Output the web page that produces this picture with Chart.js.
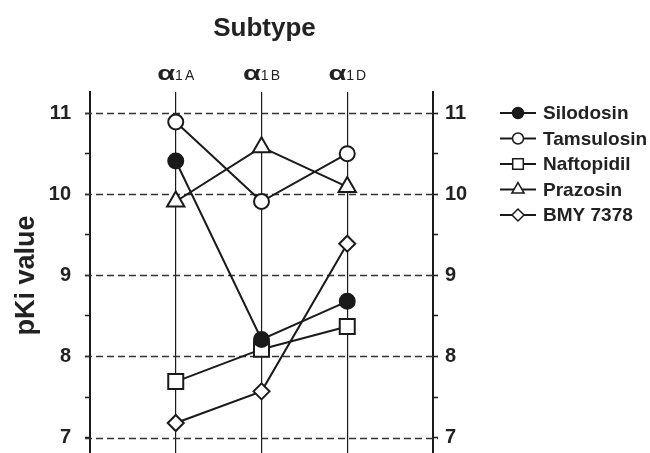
<!DOCTYPE html>
<html>
<head>
<meta charset="utf-8">
<script src="https://cdn.jsdelivr.net/npm/chart.js@4/dist/chart.umd.min.js"></script>
<style>
  html, body { margin: 0; padding: 0; background: #fff; }
  #wrap { width: 650px; height: 453px; position: relative; }
</style>
</head>
<body>
<div id="wrap"><canvas id="pki-chart"></canvas></div>
<script>
/* pKi values of five alpha1 blockers at the three receptor subtypes. */
var subtypes = ["1A", "1B", "1D"];
var silodosin = [10.41, 8.21, 8.68];
var tamsulosin = [10.89, 9.91, 10.50];
var naftopidil = [7.69, 8.09, 8.37];
var prazosin = [9.91, 10.58, 10.09];
var bmy7378 = [7.18, 7.57, 9.39];
var yTicks = [7, 7.5, 8, 8.5, 9, 9.5, 10, 10.5, 11];

(function () {
  "use strict";
  var INK = "#1a1a1a";
  var FONT = "'Liberation Sans', Arial, sans-serif";

  var series = [
    { label: "Silodosin", data: silodosin, shape: "circle", r: 7.5, lr: 5.5, fill: INK },
    { label: "Tamsulosin", data: tamsulosin, shape: "circle", r: 7.5, lr: 5.5, fill: "#fff" },
    { label: "Naftopidil", data: naftopidil, shape: "rect", r: 10.6, lr: 7.5, fill: "#fff" },
    { label: "Prazosin", data: prazosin, shape: "triangle", r: 10, lr: 7, fill: "#fff" },
    { label: "BMY 7378", data: bmy7378, shape: "rectRot", r: 8, lr: 6, fill: "#fff" }
  ];

  var datasets = series.map(function (s) {
    return {
      label: s.label,
      data: s.data.map(function (v, i) { return { x: i, y: v }; }),
      borderColor: INK,
      borderWidth: 2,
      backgroundColor: s.fill,
      pointStyle: s.shape,
      pointRadius: s.r,
      pointHoverRadius: s.r,
      pointBorderWidth: 2,
      pointBackgroundColor: s.fill,
      pointBorderColor: INK,
      tension: 0,
      fill: false,
      clip: false
    };
  });

  function setTicks(scale) {
    scale.ticks = yTicks.map(function (v) { return { value: v }; });
  }
  function intLabel(v) { return Number.isInteger(v) ? String(v) : ""; }

  var yCommon = function (pos, width, pad) {
    return {
      type: "linear",
      position: pos,
      min: 6.81,
      max: 11.26,
      afterBuildTicks: setTicks,
      afterFit: function (scale) {
        scale.width = width;
        scale.paddingTop = 0;
        scale.paddingBottom = 0;
      },
      grid: { drawOnChartArea: false, drawTicks: true, tickLength: 5, tickColor: INK, tickWidth: 1.5 },
      border: { display: true, color: INK, width: 2 },
      ticks: {
        callback: intLabel,
        padding: pad,
        color: "#222",
        font: { family: FONT, size: 20, weight: "bold" }
      }
    };
  };

  var decor = {
    id: "decor",
    beforeDatasetsDraw: function (chart) {
      var ctx = chart.ctx, a = chart.chartArea, y = chart.scales.y;
      ctx.save();
      ctx.strokeStyle = "#333";
      ctx.lineWidth = 1.5;
      ctx.setLineDash([7, 4]);
      yTicks.forEach(function (v) {
        if (!Number.isInteger(v)) return;
        var py = Math.round(y.getPixelForValue(v)) + 0.5;
        ctx.beginPath();
        ctx.moveTo(a.left - 5, py);
        ctx.lineTo(a.right + 5, py);
        ctx.stroke();
      });
      ctx.restore();
    },
    afterDraw: function (chart) {
      var ctx = chart.ctx, a = chart.chartArea, x = chart.scales.x;
      ctx.save();
      ctx.fillStyle = "#222";
      ctx.textBaseline = "alphabetic";

      // title
      ctx.font = "bold 26px " + FONT;
      ctx.textAlign = "center";
      ctx.fillText("Subtype", (a.left + a.right) / 2 + 3, 36);

      // subtype labels: alpha + subscript-ish suffix
      subtypes.forEach(function (s, i) {
        var px = x.getPixelForValue(i);
        ctx.font = "bold 20px " + FONT;
        var aw = ctx.measureText("α").width * 1.45;
        ctx.font = "14px " + FONT;
        var sw = ctx.measureText(s).width + 2;
        var left = px - (aw + sw) / 2;
        ctx.save();
        ctx.translate(left, 80);
        ctx.scale(1.45, 1);
        ctx.font = "bold 20px " + FONT;
        ctx.textAlign = "left";
        ctx.fillText("α", 0, 0);
        ctx.restore();
        ctx.font = "14px " + FONT;
        ctx.textAlign = "left";
        ctx.fillText(s.charAt(0), left + aw, 80);
        ctx.fillText(s.charAt(1), left + aw + ctx.measureText(s.charAt(0)).width + 2, 80);
      });

      // y title
      ctx.save();
      ctx.translate(27, (a.top + a.bottom) / 2 + 3);
      ctx.rotate(-Math.PI / 2);
      ctx.font = "bold 27px " + FONT;
      ctx.textAlign = "center";
      ctx.textBaseline = "middle";
      ctx.fillText("pKi value", 0, 0);
      ctx.restore();

      // legend: line through marker, bold label
      series.forEach(function (s, i) {
        var ly = 113 + i * 25.5;
        ctx.strokeStyle = INK;
        ctx.lineWidth = 2;
        ctx.beginPath();
        ctx.moveTo(500, ly);
        ctx.lineTo(536, ly);
        ctx.stroke();
        ctx.fillStyle = s.fill;
        ctx.lineWidth = 1.5;
        if (Chart.helpers && Chart.helpers.drawPoint) {
          Chart.helpers.drawPoint(ctx, { pointStyle: s.shape, radius: s.lr, borderWidth: 1.5, rotation: 0 }, 518, ly);
        } else {
          ctx.beginPath();
          ctx.arc(518, ly, s.lr, 0, Math.PI * 2);
          ctx.fill();
          ctx.stroke();
        }
        ctx.fillStyle = "#222";
        ctx.font = "bold 19px " + FONT;
        ctx.textAlign = "left";
        ctx.textBaseline = "middle";
        ctx.fillText(s.label, 543, ly + 1);
      });
      ctx.restore();
    }
  };

  new Chart(document.getElementById("pki-chart"), {
    type: "line",
    data: { datasets: datasets },
    options: {
      responsive: true,
      maintainAspectRatio: false,
      animation: false,
      events: [],
      layout: { autoPadding: false, padding: { top: 92, left: 0, right: 0, bottom: 0 } },
      scales: {
        x: {
          type: "linear",
          min: -1,
          max: 3,
          ticks: { display: false, stepSize: 1 },
          afterBuildTicks: function (scale) {
            scale.ticks = subtypes.map(function (s, i) { return { value: i }; });
          },
          afterFit: function (scale) { scale.height = 0; },
          grid: { color: INK, lineWidth: 1.2, drawTicks: false },
          border: { display: false }
        },
        y: yCommon("left", 90, 14),
        y2: yCommon("right", 217, 7)
      },
      plugins: {
        legend: { display: false },
        tooltip: { enabled: false }
      }
    },
    plugins: [decor]
  });
})();
</script>
</body>
</html>
